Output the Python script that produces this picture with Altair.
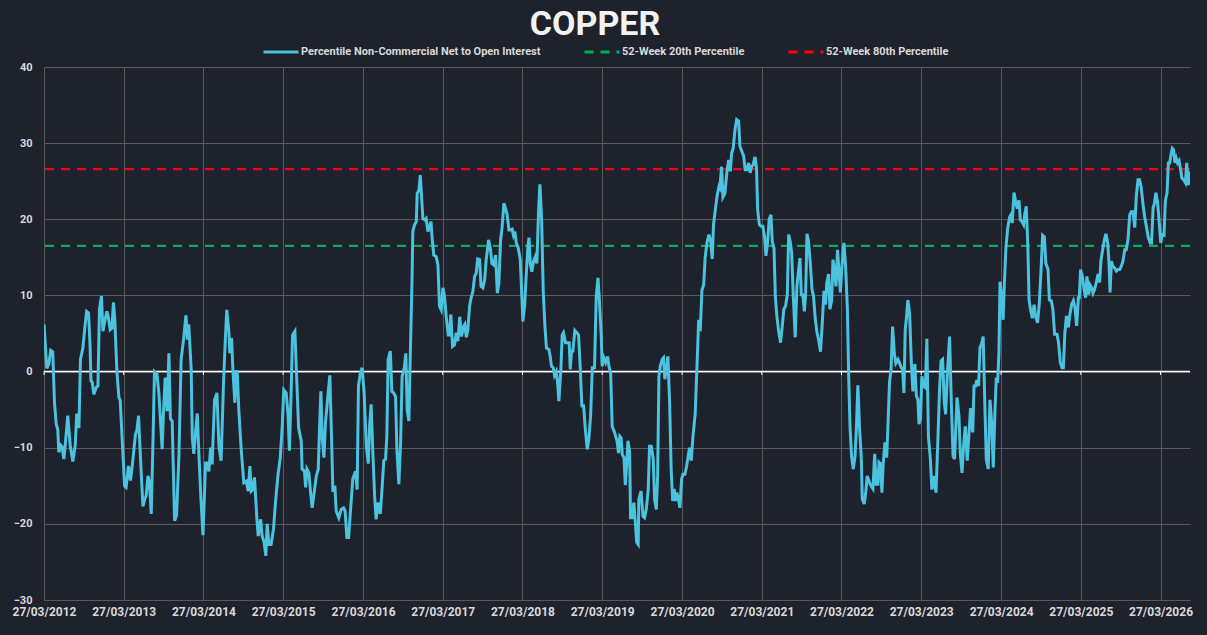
import altair as alt
import pandas as pd

START = "2012-03-27"
TITLE = "COPPER"
SERIES_NAME = "Percentile Non-Commercial Net to Open Interest"
P20_NAME = "52-Week 20th Percentile"
P80_NAME = "52-Week 80th Percentile"
P20_VALUE = 16.5
P80_VALUE = 26.6
TICK_YEARS = list(range(2012, 2027))
BG = "#1e222d"

# day offsets from START and readings, by period
days_2012 = [0, 13, 22, 31, 40, 48, 56, 63, 68, 77, 83, 91, 101, 109, 120, 132, 143, 150, 160, 167, 178, 186, 195, 204, 211, 215, 221, 228, 239, 247, 254, 263, 270, 277, 288, 295, 303, 311, 318, 324, 334, 343, 349, 358, 369, 376, 387, 396, 404, 419, 425, 433, 437, 445, 453, 462, 468, 476, 483, 491, 498, 506, 517, 526, 534, 541, 547, 555, 564, 572, 579, 587, 598, 607, 618, 628, 639, 650, 657, 663, 674, 679, 686, 694, 702, 709, 718, 728]
vals_2012 = [6.2, 0.4, 1.0, 2.8, 2.6, -4.1, -6.9, -7.6, -10.6, -9.7, -9.9, -11.5, -8.4, -5.8, -9.7, -11.8, -9.7, -5.5, -7.4, 1.6, 3.1, 5.5, 7.9, 7.7, 3.4, -1.2, -1.4, -3.0, -2.1, -1.9, 8.2, 9.9, 5.3, 6.4, 7.9, 7.1, 5.5, 5.7, 9.1, 6.9, -0.1, -3.4, -3.8, -8.9, -15.0, -15.2, -12.4, -14.3, -12.4, -8.2, -7.8, -5.8, -8.4, -13.2, -17.7, -16.7, -16.3, -13.7, -14.5, -18.7, -10.6, 0.0, -0.3, -2.8, -6.7, -10.2, -5.4, -0.8, -5.2, 2.4, -6.2, -6.5, -19.6, -18.9, -11.0, 1.6, 4.2, 7.4, 4.2, 6.2, 0.3, -8.6, -10.8, -8.0, -5.5, -10.6, -16.3, -21.5]

days_2014 = [740, 747, 755, 763, 770, 781, 792, 801, 811, 822, 831, 837, 847, 851, 859, 865, 874, 880, 885, 892, 903, 915, 926, 935, 943, 949, 956, 964, 975, 981, 992, 999, 1008, 1016, 1022, 1030, 1040, 1051, 1060, 1071, 1082, 1091, 1098, 1109, 1117, 1124, 1132, 1138, 1149, 1158, 1166, 1178, 1182, 1193, 1198, 1204, 1213, 1221, 1228, 1239, 1247, 1256, 1262, 1268, 1274, 1282, 1289, 1300, 1309, 1317, 1323, 1332, 1338, 1350, 1361, 1372, 1379, 1387, 1395, 1404, 1414, 1427, 1434, 1440, 1450, 1457]
vals_2014 = [-12.0, -12.0, -13.1, -10.0, -12.2, -3.7, -2.8, -9.8, -11.7, -1.5, 4.6, 8.1, 5.1, 2.4, 4.4, 0.3, -4.1, 0.0, 0.0, -5.0, -10.2, -14.6, -14.4, -15.7, -12.4, -15.7, -15.5, -13.9, -19.4, -21.6, -19.4, -21.6, -22.4, -24.2, -20.0, -22.7, -22.7, -20.7, -17.2, -13.7, -11.3, -7.2, -2.4, -2.8, -5.4, -10.4, -2.4, 4.8, 5.3, -1.5, -7.4, -9.1, -12.8, -13.1, -15.2, -12.8, -13.3, -15.9, -17.9, -15.5, -13.7, -12.8, -7.2, -2.6, -8.7, -11.3, -6.7, -3.2, -0.5, -8.9, -15.8, -15.0, -18.3, -19.2, -18.1, -17.9, -18.3, -21.8, -21.8, -18.1, -14.1, -13.1, -15.5, -1.9, 0.0, 0.5]

days_2016 = [1466, 1476, 1485, 1491, 1498, 1506, 1514, 1521, 1529, 1540, 1549, 1556, 1564, 1570, 1576, 1586, 1593, 1601, 1610, 1616, 1625, 1633, 1640, 1650, 1657, 1663, 1671, 1677, 1685, 1689, 1697, 1705, 1709, 1717, 1723, 1729, 1735, 1744, 1750, 1758, 1766, 1772, 1778, 1785, 1796, 1804, 1811, 1819, 1827, 1834, 1842, 1851, 1857, 1863, 1871, 1880, 1888, 1895, 1904, 1912, 1921, 1927, 1934, 1941, 1949, 1956, 1964, 1972, 1979, 1986, 1995, 2001, 2010, 2018, 2025, 2036, 2044, 2051, 2060, 2068, 2076, 2083, 2091, 2098, 2106, 2114, 2121, 2129, 2137, 2144, 2150, 2156, 2163, 2172, 2181, 2189]
vals_2016 = [-2.8, -9.8, -12.1, -7.2, -4.3, -10.7, -16.3, -19.4, -17.2, -18.7, -15.0, -11.7, -11.5, -8.5, 1.6, 2.7, -2.6, -2.8, -3.3, -10.2, -14.8, -9.4, -0.6, 0.5, 2.4, -5.0, -6.5, 1.6, 11.6, 18.4, 19.3, 19.7, 23.4, 23.8, 25.8, 23.0, 20.1, 19.9, 20.1, 18.4, 19.0, 19.7, 17.3, 15.3, 15.1, 14.0, 8.6, 8.1, 11.0, 9.9, 7.2, 4.8, 4.8, 7.5, 3.3, 3.5, 5.1, 4.0, 7.2, 4.6, 5.9, 6.2, 4.5, 5.5, 8.6, 9.7, 10.5, 12.5, 12.9, 14.8, 14.7, 11.2, 11.0, 12.1, 14.7, 17.3, 16.2, 14.2, 14.0, 15.3, 10.3, 11.6, 17.3, 19.0, 22.1, 21.4, 20.6, 18.6, 18.6, 18.7, 17.9, 18.4, 16.9, 16.2, 14.7, 9.4]

days_2018 = [2193, 2201, 2208, 2216, 2221, 2227, 2234, 2242, 2250, 2257, 2265, 2271, 2279, 2286, 2294, 2301, 2312, 2318, 2324, 2332, 2338, 2346, 2352, 2358, 2367, 2373, 2379, 2388, 2398, 2405, 2410, 2416, 2422, 2431, 2440, 2448, 2456, 2463, 2471, 2479, 2488, 2495, 2503, 2511, 2521, 2529, 2537, 2544, 2552, 2556, 2564, 2572, 2581, 2587, 2595, 2602, 2613, 2624, 2631, 2637, 2643, 2648, 2656, 2662, 2669, 2674, 2682, 2686, 2694, 2701, 2708, 2714, 2721, 2724, 2734, 2743, 2750, 2758, 2767, 2773, 2781, 2790, 2796, 2804, 2810, 2816, 2822, 2831, 2837, 2843, 2850, 2857, 2865, 2872, 2879, 2886, 2892, 2898, 2906, 2912]
vals_2018 = [6.6, 8.6, 12.5, 16.4, 17.6, 14.2, 13.1, 14.5, 15.1, 14.2, 21.2, 24.6, 19.9, 10.7, 5.9, 3.1, 2.9, 2.0, 0.7, 0.5, -0.5, 0.0, -1.5, -3.9, 0.3, 4.8, 5.1, 3.8, 3.8, 3.8, 0.3, 2.7, 2.7, 5.4, 5.1, 4.8, 0.3, -4.5, -4.5, -7.6, -10.2, -8.9, -5.9, 0.5, 0.5, 9.9, 12.3, 9.0, 4.6, 0.7, 1.8, 1.2, 2.0, 0.7, -0.2, -7.2, -8.0, -9.1, -10.7, -8.5, -8.7, -10.9, -11.3, -14.9, -12.0, -9.1, -10.5, -19.2, -19.2, -17.2, -19.8, -22.4, -22.7, -16.8, -15.7, -19.0, -19.2, -18.1, -15.5, -9.8, -9.8, -11.5, -16.8, -18.1, -13.7, -0.6, 0.7, 1.6, 1.8, -1.0, 0.3, 2.0, -4.1, -12.8, -17.0, -15.4, -17.0, -15.9, -16.8, -17.9]

days_2020 = [2920, 2926, 2935, 2943, 2950, 2956, 2964, 2972, 2982, 2992, 2998, 3005, 3013, 3021, 3028, 3036, 3045, 3053, 3060, 3066, 3074, 3082, 3091, 3095, 3103, 3109, 3118, 3127, 3135, 3143, 3149, 3156, 3164, 3172, 3181, 3187, 3196, 3204, 3211, 3219, 3227, 3234, 3240, 3248, 3256, 3263, 3268, 3276, 3283, 3292, 3300, 3306, 3314, 3321, 3329, 3335, 3343, 3349, 3356, 3364, 3373, 3381, 3388, 3396, 3404, 3410, 3417, 3424, 3431, 3440, 3448, 3454, 3462, 3468, 3475, 3482, 3488, 3494, 3501, 3509, 3517, 3524, 3532, 3540, 3547, 3556, 3564, 3572, 3579, 3585, 3593, 3599, 3607, 3613, 3619, 3627, 3634, 3640]
vals_2020 = [-14.1, -13.5, -13.5, -12.4, -11.1, -10.0, -11.7, -8.5, -5.6, 2.0, 6.8, 5.3, 10.7, 11.4, 15.1, 16.9, 18.0, 17.1, 14.8, 19.3, 21.2, 23.0, 24.3, 24.1, 26.9, 22.9, 23.4, 26.1, 27.8, 26.3, 28.7, 29.3, 31.7, 33.1, 32.9, 29.6, 28.9, 28.3, 26.5, 26.5, 27.4, 26.1, 26.9, 27.2, 28.2, 26.7, 21.3, 19.3, 19.1, 19.1, 17.6, 15.2, 17.1, 20.0, 20.6, 17.1, 16.2, 9.9, 7.3, 5.3, 3.8, 6.0, 8.2, 8.6, 10.1, 18.0, 17.1, 15.6, 10.1, 4.5, 11.2, 13.0, 14.9, 10.1, 10.1, 7.9, 10.3, 18.1, 17.1, 14.3, 10.8, 9.9, 6.9, 5.1, 4.2, 2.6, 6.4, 10.6, 8.8, 11.7, 12.8, 8.2, 9.3, 14.7, 13.4, 11.2, 16.0, 13.4]

days_2022 = [3647, 3654, 3663, 3671, 3679, 3685, 3691, 3698, 3706, 3714, 3720, 3727, 3735, 3743, 3747, 3756, 3763, 3770, 3779, 3787, 3796, 3804, 3811, 3819, 3824, 3831, 3837, 3843, 3851, 3859, 3866, 3872, 3879, 3886, 3894, 3901, 3911, 3918, 3926, 3932, 3938, 3944, 3950, 3956, 3964, 3972, 3979, 3988, 3995, 4002, 4007, 4014, 4020, 4028, 4036, 4043, 4050, 4059, 4066, 4074, 4085, 4094, 4101, 4108, 4115, 4123, 4129, 4137, 4147, 4155, 4163, 4170, 4181, 4190, 4196, 4204, 4211, 4219, 4228, 4236, 4243, 4253, 4259, 4266, 4272, 4280, 4286, 4294, 4301, 4308, 4315, 4324, 4332, 4340, 4347, 4355, 4361, 4367, 4373]
vals_2022 = [10.4, 13.8, 16.9, 13.8, 8.2, -0.6, -7.1, -11.1, -12.8, -11.1, -7.6, -1.8, -7.6, -11.5, -16.7, -17.4, -15.9, -13.7, -14.5, -15.0, -15.4, -10.8, -14.8, -14.8, -11.9, -12.1, -15.9, -12.1, -9.3, -11.3, -6.2, -1.4, 0.3, 5.9, 2.4, 1.1, 1.6, 1.1, 0.5, 0.3, -2.8, 5.5, 7.2, 9.4, 7.7, 1.1, -2.6, 1.0, -3.2, -3.7, -6.9, -6.1, -0.6, -1.9, -2.1, 4.3, -8.5, -11.5, -15.5, -13.7, -15.9, -8.5, -2.4, 1.4, 1.6, -4.1, -5.6, -0.2, 4.6, -4.1, -11.1, -11.5, -3.4, -5.9, -10.7, -13.3, -9.8, -7.2, -11.7, -8.1, -4.8, -8.0, -1.9, -1.9, -1.1, -1.9, 3.1, 3.7, 4.6, -3.7, -11.5, -12.8, -3.7, -6.8, -12.6, -5.0, -0.8, -1.5, 2.4]

days_2024 = [4378, 4385, 4392, 4398, 4405, 4413, 4422, 4428, 4434, 4442, 4450, 4457, 4465, 4471, 4479, 4486, 4492, 4498, 4505, 4511, 4518, 4526, 4534, 4541, 4550, 4558, 4566, 4573, 4581, 4588, 4598, 4604, 4613, 4620, 4628, 4639, 4646, 4654, 4662, 4668, 4675, 4682, 4691, 4698, 4706, 4714, 4721, 4729, 4737, 4741, 4747, 4755, 4763, 4770, 4776, 4784, 4790, 4798, 4804, 4811, 4819, 4827, 4834, 4840, 4848, 4856, 4863, 4871, 4877, 4882, 4888, 4895, 4903, 4911, 4918, 4926, 4933, 4941, 4949, 4956, 4964, 4972, 4979, 4987, 4995, 5002, 5010, 5017, 5025, 5033, 5040, 5048, 5057, 5066, 5072, 5079, 5085, 5092, 5100, 5106, 5114, 5121, 5129, 5135, 5143, 5149, 5155, 5161, 5167, 5173, 5179, 5185, 5191, 5198, 5205, 5211, 5219, 5227, 5233, 5240, 5248]
vals_2024 = [11.8, 9.9, 6.8, 11.6, 16.2, 18.8, 20.3, 20.6, 19.5, 23.5, 22.3, 21.4, 22.5, 19.9, 19.7, 19.3, 20.8, 21.7, 16.9, 9.4, 8.1, 7.0, 8.8, 7.2, 6.4, 9.0, 13.4, 17.9, 17.7, 14.2, 13.4, 9.4, 9.3, 8.2, 4.9, 4.9, 3.8, 1.2, 0.5, 0.5, 5.1, 7.3, 5.8, 7.5, 8.8, 9.3, 8.4, 6.0, 9.7, 9.7, 13.4, 12.5, 10.8, 9.7, 12.5, 10.1, 11.4, 11.0, 10.3, 10.8, 11.7, 12.8, 11.7, 14.5, 16.0, 17.3, 18.1, 16.9, 14.3, 10.4, 14.5, 13.8, 13.6, 13.2, 13.4, 13.4, 13.8, 14.5, 16.0, 16.0, 17.3, 20.6, 21.0, 21.0, 18.9, 23.0, 25.2, 25.2, 24.1, 21.9, 20.4, 19.1, 17.6, 16.9, 16.9, 21.5, 22.1, 23.5, 22.1, 20.0, 16.9, 18.0, 17.9, 22.4, 23.5, 27.4, 27.4, 28.5, 29.3, 29.1, 27.4, 28.0, 27.4, 27.7, 26.5, 25.4, 25.2, 24.8, 27.4, 24.5, 26.3]

all_days = days_2012 + days_2014 + days_2016 + days_2018 + days_2020 + days_2022 + days_2024
all_vals = vals_2012 + vals_2014 + vals_2016 + vals_2018 + vals_2020 + vals_2022 + vals_2024

series_df = pd.DataFrame({
    "date": pd.Timestamp(START) + pd.to_timedelta(all_days, unit="D"),
    "value": all_vals,
    "series": SERIES_NAME,
})
thresh_df = pd.DataFrame({"series": [P20_NAME, P80_NAME], "value": [P20_VALUE, P80_VALUE]})
zero_df = pd.DataFrame({"value": [0]})
tick_df = pd.DataFrame({"date": [pd.Timestamp(f"{y}-03-27") for y in TICK_YEARS]})

LABEL_COLOR = "#d9d9d9"
FONT = "Roboto"

x_scale = alt.Scale(domain=[alt.DateTime(year=2012, month=3, date=27),
                            alt.DateTime(year=2026, month=8, date=9)])
y_scale = alt.Scale(domain=[-30, 40], nice=False)

color_scale = alt.Scale(domain=[SERIES_NAME, P20_NAME, P80_NAME],
                        range=["#4bc3df", "#00b050", "#ff0000"])
dash_scale = alt.Scale(domain=[SERIES_NAME, P20_NAME, P80_NAME],
                       range=[[1, 0], [9, 7], [9, 7]])

legend = alt.Legend(
    title=None, orient="none", direction="horizontal", legendX=218, legendY=-34,
    symbolType="stroke", symbolSize=1225, symbolStrokeWidth=3,
    labelFont=FONT, labelFontWeight="bold", labelFontSize=11, labelColor=LABEL_COLOR,
    labelLimit=400, labelOffset=1, columnPadding=37, padding=0,
)

x_axis = alt.Axis(
    values=[alt.DateTime(year=y, month=3, date=27) for y in TICK_YEARS],
    format="%d/%m/%Y", labelAngle=0, labelFont=FONT, labelFontWeight="bold",
    labelFontSize=12, labelColor=LABEL_COLOR, labelPadding=6, ticks=False,
    domain=False, grid=True, gridColor="#595959", gridWidth=1,
    labelOverlap=False, labelFlush=False, labelBound=False, title=None,
)
y_axis = alt.Axis(
    values=list(range(-30, 41, 10)), labelFont=FONT, labelFontWeight="bold",
    labelFontSize=11, labelColor=LABEL_COLOR, labelPadding=12, ticks=False,
    domain=False, grid=True, gridColor="#595959", gridWidth=1, title=None,
)

base_grid = alt.Chart(series_df).mark_line(opacity=0).encode(
    x=alt.X("date:T", scale=x_scale, axis=x_axis),
    y=alt.Y("value:Q", scale=y_scale, axis=y_axis),
)

zero_line = alt.Chart(zero_df).mark_rule(color="#ffffff", strokeWidth=1.5).encode(
    y=alt.Y("value:Q", scale=y_scale)
)

zero_ticks = alt.Chart(tick_df).mark_rule(color="#ffffff", strokeWidth=1).encode(
    x=alt.X("date:T", scale=x_scale),
    y=alt.datum(0),
    y2=alt.datum(-0.45),
)

thresholds = alt.Chart(thresh_df).mark_rule(strokeWidth=2.2).encode(
    y=alt.Y("value:Q", scale=y_scale),
    color=alt.Color("series:N", scale=color_scale, legend=legend),
    strokeDash=alt.StrokeDash("series:N", scale=dash_scale, legend=legend),
)

line = alt.Chart(series_df).mark_line(strokeWidth=3, clip=True).encode(
    x=alt.X("date:T", scale=x_scale),
    y=alt.Y("value:Q", scale=y_scale),
    color=alt.Color("series:N", scale=color_scale, legend=legend),
    strokeDash=alt.StrokeDash("series:N", scale=dash_scale, legend=legend),
)

chart = alt.layer(base_grid, zero_line, zero_ticks, thresholds, line).properties(
    width=1146, height=533,
    background=BG,
    padding={"left": 44, "top": 67, "right": 16, "bottom": 32},
    autosize=alt.AutoSizeParams(type="none"),
    title=alt.TitleParams(
        TITLE, font=FONT, fontSize=34, fontWeight="bold", color="#f2f2f2",
        anchor="middle", dx=-22, dy=13, offset=4, frame="group",
    ),
).configure_view(stroke=None)

# the page body shares the chart's dark background; the chart supplies its own margin
try:
    import altair.utils.html as _alt_html

    class _DarkPage:
        def __init__(self, tmpl):
            self._tmpl = tmpl

        def render(self, *args, **kwargs):
            html = self._tmpl.render(*args, **kwargs)
            return html.replace(
                "<head>",
                "<head><style>html,body{background:" + BG + ";margin:0;overflow:hidden;}</style>",
                1,
            )

    _alt_html.TEMPLATES["standard"] = _DarkPage(_alt_html.TEMPLATES["standard"])
except Exception:
    pass

chart.save("out.html", embed_options={"renderer": "svg", "actions": False})
